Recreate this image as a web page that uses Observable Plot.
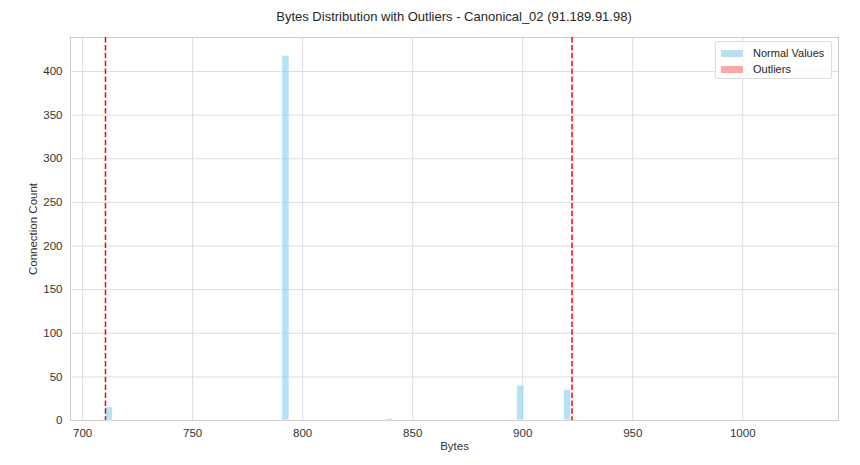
<!DOCTYPE html>
<html>
<head>
<meta charset="utf-8">
<script src="https://cdn.jsdelivr.net/npm/d3@7"></script>
<script src="https://cdn.jsdelivr.net/npm/@observablehq/plot@0.6"></script>
<style>
  html, body { margin: 0; padding: 0; background: #fff; }
  body { width: 860px; height: 465px; overflow: hidden; font-family: "Liberation Sans", Arial, sans-serif; }
  #wrap { position: relative; width: 860px; height: 465px; }
  #title { height: 30px; line-height: 34px; font-size: 13px; color: #262626; text-align: center; padding-left: 48px; box-sizing: border-box; }
  #legend { position: absolute; left: 715px; top: 41px; width: 117px; height: 38px; border: 1px solid #dcdcdc; border-radius: 3px; background: rgba(255,255,255,0.85); font-size: 11px; color: #262626; box-sizing: border-box; }
  .row { position: absolute; left: 5px; height: 14px; display: flex; align-items: center; }
  .sw { width: 22px; height: 7px; margin-right: 10px; }
</style>
</head>
<body>
<div id="wrap">
  <div id="title">Bytes Distribution with Outliers - Canonical_02 (91.189.91.98)</div>
  <div id="chart"></div>
  <div id="legend">
    <div class="row" style="top:4px"><div class="sw" style="background:#b7e1f3"></div>Normal Values</div>
    <div class="row" style="top:20px"><div class="sw" style="background:#f7aaa6"></div>Outliers</div>
  </div>
</div>
<script>
// Histogram bins (left edge in bytes) and connection counts
const normalBinStart = [710.5, 790.8, 837.8, 897.5, 918.8];
const normalCounts   = [15, 418, 2, 40, 35];
const binWidth = 3.2;
// Outlier bins (none visible)
const outlierBinStart = [];
const outlierCounts = [];
// Outlier thresholds (dashed lines)
const thresholds = [710.4, 922.4];
const xTicks = [700, 750, 800, 850, 900, 950, 1000];
const yTicks = [0, 50, 100, 150, 200, 250, 300, 350, 400];
const xDomain = [694.5, 1043.5];
const yDomain = [0, 439];

const normal = normalBinStart.map((s, i) => ({x1: s, x2: s + binWidth, y: normalCounts[i]}));
const outliers = outlierBinStart.map((s, i) => ({x1: s, x2: s + binWidth, y: outlierCounts[i]}));

const chart = Plot.plot({
  width: 860,
  height: 435,
  marginTop: 7,
  marginBottom: 45,
  marginLeft: 70,
  marginRight: 22,
  style: {fontFamily: "Liberation Sans, Arial, sans-serif", fontSize: "11.5px", color: "#262626", background: "#fff"},
  x: {domain: xDomain, ticks: xTicks, label: "Bytes", labelAnchor: "center", labelArrow: "none"},
  y: {domain: yDomain, ticks: yTicks, label: "Connection Count", labelAnchor: "center", labelArrow: "none"},
  marks: [
    Plot.gridX(xTicks, {stroke: "#dddddd", strokeOpacity: 1, strokeWidth: 1}),
    Plot.gridY(yTicks, {stroke: "#dddddd", strokeOpacity: 1, strokeWidth: 1}),
    Plot.frame({stroke: "#cccccc", strokeWidth: 1}),
    Plot.axisX(xTicks, {tickSize: 0, tickPadding: 8, tickFormat: d => String(d), label: "Bytes", labelAnchor: "center", labelArrow: "none", labelOffset: 29, fill: "#333"}),
    Plot.axisY(yTicks, {tickSize: 0, tickPadding: 8, label: "Connection Count", labelAnchor: "center", labelArrow: "none", labelOffset: 42, fill: "#333"}),
    Plot.rectY(normal, {x1: "x1", x2: "x2", y: "y", fill: "#87ceeb", fillOpacity: 0.6, stroke: "#fff", strokeWidth: 0.5}),
    Plot.rectY(outliers, {x1: "x1", x2: "x2", y: "y", fill: "#fa8072", fillOpacity: 0.6, stroke: "#fff", strokeWidth: 0.5}),
    Plot.ruleX(thresholds, {stroke: "#ff0000", strokeWidth: 1.5, strokeDasharray: "5.5,2.4"})
  ]
});
document.getElementById("chart").appendChild(chart);
</script>
</body>
</html>
